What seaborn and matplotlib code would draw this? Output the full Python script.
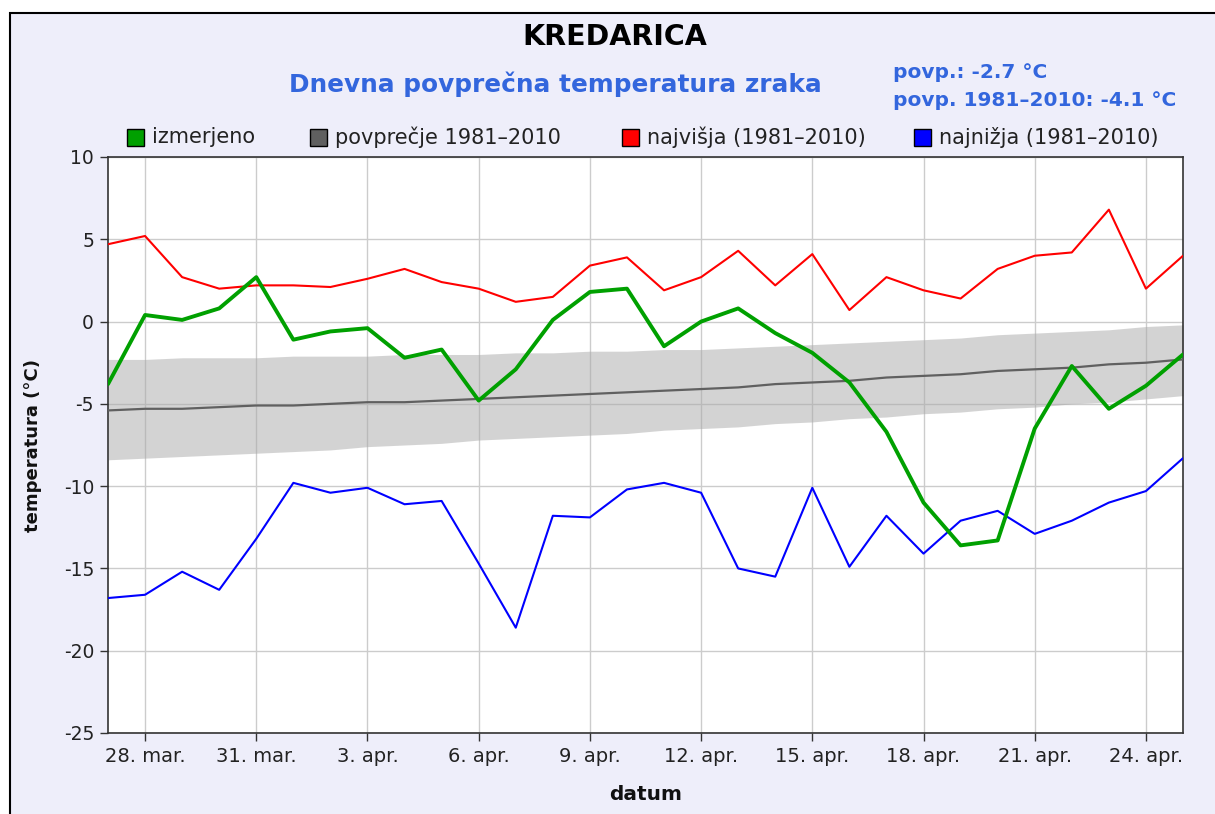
import pandas as pd
import matplotlib.pyplot as plt
import matplotlib.patches as mpatches
import seaborn as sns

# dnevi 27. mar. - 25. apr.
dnevi = pd.date_range("2024-03-27", "2024-04-25", freq="D")

izmerjeno = [-3.8, 0.4, 0.1, 0.8, 2.7, -1.1, -0.6, -0.4, -2.2, -1.7,
             -4.8, -2.9, 0.1, 1.8, 2.0, -1.5, 0.0, 0.8, -0.7, -1.9,
             -3.7, -6.7, -11.0, -13.6, -13.3, -6.5, -2.7, -5.3, -3.9, -2.0]
povprecje = [-5.4, -5.3, -5.3, -5.2, -5.1, -5.1, -5.0, -4.9, -4.9, -4.8,
             -4.7, -4.6, -4.5, -4.4, -4.3, -4.2, -4.1, -4.0, -3.8, -3.7,
             -3.6, -3.4, -3.3, -3.2, -3.0, -2.9, -2.8, -2.6, -2.5, -2.3]
pas_zgoraj = [-2.3, -2.3, -2.2, -2.2, -2.2, -2.1, -2.1, -2.1, -2.0, -2.0,
              -2.0, -1.9, -1.9, -1.8, -1.8, -1.7, -1.7, -1.6, -1.5, -1.4,
              -1.3, -1.2, -1.1, -1.0, -0.8, -0.7, -0.6, -0.5, -0.3, -0.2]
pas_spodaj = [-8.4, -8.3, -8.2, -8.1, -8.0, -7.9, -7.8, -7.6, -7.5, -7.4,
              -7.2, -7.1, -7.0, -6.9, -6.8, -6.6, -6.5, -6.4, -6.2, -6.1,
              -5.9, -5.8, -5.6, -5.5, -5.3, -5.2, -5.0, -4.9, -4.7, -4.5]
najvisja = [4.7, 5.2, 2.7, 2.0, 2.2, 2.2, 2.1, 2.6, 3.2, 2.4,
            2.0, 1.2, 1.5, 3.4, 3.9, 1.9, 2.7, 4.3, 2.2, 4.1,
            0.7, 2.7, 1.9, 1.4, 3.2, 4.0, 4.2, 6.8, 2.0, 4.0]
najnizja = [-16.8, -16.6, -15.2, -16.3, -13.2, -9.8, -10.4, -10.1, -11.1, -10.9,
            -14.7, -18.6, -11.8, -11.9, -10.2, -9.8, -10.4, -15.0, -15.5, -10.1,
            -14.9, -11.8, -14.1, -12.1, -11.5, -12.9, -12.1, -11.0, -10.3, -8.3]

tick_labels = ["28. mar.", "31. mar.", "3. apr.", "6. apr.", "9. apr.",
               "12. apr.", "15. apr.", "18. apr.", "21. apr.", "24. apr."]
y_ticks = [10, 5, 0, -5, -10, -15, -20, -25]

serije = ["izmerjeno", "povprečje 1981–2010", "najvišja (1981–2010)", "najnižja (1981–2010)"]
barve = ["#00A000", "#606060", "#FF0000", "#0000FF"]
modra = "#3366DD"
ozadje = "#EEEEFA"

df = pd.DataFrame({"datum": dnevi, "izmerjeno": izmerjeno, "povprecje": povprecje,
                   "najvisja": najvisja, "najnizja": najnizja})

sns.set_theme(style="whitegrid")
plt.rcParams['font.family'] = ['DejaVu Sans']

fig = plt.figure(figsize=(12.15, 8.14), dpi=100, facecolor="white")
# okvir z lila ozadjem
fig.patches.append(mpatches.Rectangle((10 / 1215, -0.01), 1.0, (814 - 13) / 814 + 0.01,
                                      transform=fig.transFigure, facecolor=ozadje,
                                      edgecolor="black", linewidth=1.5, zorder=-1))

ax = fig.add_axes([108 / 1215, 1 - 733 / 814, (1183 - 108) / 1215, (733 - 157) / 814])
ax.set_facecolor("white")

ax.fill_between(df["datum"], pas_spodaj, pas_zgoraj, color="#A9A9A9", alpha=0.5,
                linewidth=0, zorder=2)
sns.lineplot(data=df, x="datum", y="povprecje", color=barve[1], linewidth=1.6, ax=ax, zorder=3)
sns.lineplot(data=df, x="datum", y="najvisja", color=barve[2], linewidth=1.5, ax=ax, zorder=4)
sns.lineplot(data=df, x="datum", y="najnizja", color=barve[3], linewidth=1.5, ax=ax, zorder=4)
sns.lineplot(data=df, x="datum", y="izmerjeno", color=barve[0], linewidth=2.8, ax=ax, zorder=5)

ax.set_xlim(dnevi[0], dnevi[-1])
ax.set_ylim(-25, 10)
ax.set_xticks(dnevi[1::3])
ax.set_xticklabels(tick_labels)
ax.set_yticks(y_ticks)
ax.set_yticklabels([str(v) for v in y_ticks])
ax.grid(True, color="#CCCCCC", linewidth=1.0)
ax.set_axisbelow(True)
for s in ax.spines.values():
    s.set_color("#333333")
    s.set_linewidth(1.2)
ax.tick_params(axis="both", which="major", direction="out", length=6, width=1,
               color="#333333", labelsize=14, labelcolor="#222222", pad=4,
               bottom=True, left=True)
ax.tick_params(axis="y", labelsize=13.5)

ax.set_xlabel("datum", fontsize=14.5, fontweight="bold", labelpad=14, color="#111111")
ax.set_ylabel("temperatura (°C)", fontsize=13, fontweight="bold", labelpad=16, color="#111111")

fig.text(615 / 1215, 1 - 37 / 814, "KREDARICA", ha="center", va="center",
         fontsize=20.5, fontweight="bold", color="black")
fig.text(555 / 1215, 1 - 84 / 814, "Dnevna povprečna temperatura zraka", ha="center",
         va="center", fontsize=17.8, fontweight="bold", color=modra)
fig.text(893 / 1215, 1 - 72 / 814, "povp.: -2.7 °C", ha="left", va="center",
         fontsize=14.5, fontweight="bold", color=modra)
fig.text(893 / 1215, 1 - 100 / 814, "povp. 1981–2010: -4.1 °C", ha="left", va="center",
         fontsize=14.5, fontweight="bold", color=modra)

# legenda
leg_x = [127, 310, 622, 914]
for x0, ime, b in zip(leg_x, serije, barve):
    fig.patches.append(mpatches.Rectangle((x0 / 1215, 1 - 146 / 814), 17 / 1215, 17 / 814,
                                          transform=fig.transFigure, facecolor=b,
                                          edgecolor="black", linewidth=1.0, zorder=3))
    fig.text((x0 + 25) / 1215, 1 - 137 / 814, ime, ha="left", va="center",
             fontsize=15, color="#222222")

fig.savefig("out.png", dpi=100, facecolor=fig.get_facecolor())
